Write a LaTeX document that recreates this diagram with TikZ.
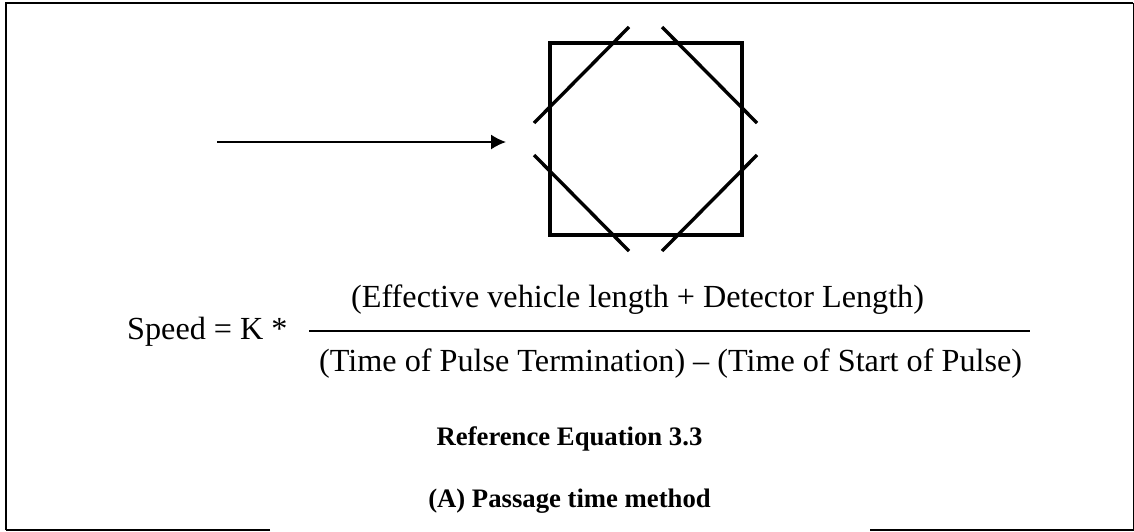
\documentclass[tikz,border=0pt]{standalone}
\usepackage{fontspec}
\setmainfont{Liberation Serif}
\usetikzlibrary{arrows.meta}
\begin{document}
\begin{tikzpicture}[
    x=1pt, y=-1pt,
    frameline/.style={line width=2pt},
    thinframe/.style={line width=1.2pt},
    slot/.style={line width=3.4pt},
    arrow/.style={-{Latex[length=15pt,width=15pt]}, line width=1.6pt},
    eqtext/.style={inner sep=0pt, font=\fontsize{32.2}{36}\selectfont},
    caption/.style={inner sep=0pt, font=\fontsize{26.7}{30}\selectfont\bfseries}
]
\useasboundingbox (0,0) rectangle (1134,531);
% Outer frame, open along the bottom
\coordinate (botleft) at (270,530);
\coordinate (botright) at (870,530);
\coordinate (cornersw) at (6,530);
\coordinate (cornernw) at (6,3);
\coordinate (cornerne) at (1133.4,3);
\coordinate (cornerse) at (1133.4,530);
\draw[frameline] (cornersw) -- (cornernw) -- (cornerne);
\draw[thinframe] (botleft) -- (cornersw);
\draw[thinframe] (cornerne) -- (cornerse) -- (botright);

% Detector loop
\node[draw, line width=3.5pt, minimum width=192pt, minimum height=192pt, inner sep=0pt] (loop) at (646,139) {};

% Saw cuts
\coordinate (nwa) at (534,123);
\coordinate (nwb) at (629,27);
\coordinate (nea) at (662,27);
\coordinate (neb) at (757,123);
\coordinate (swa) at (534,155);
\coordinate (swb) at (629,251);
\coordinate (sea) at (662,251);
\coordinate (seb) at (757,155);
\draw[slot] (nwa) -- (nwb);
\draw[slot] (nea) -- (neb);
\draw[slot] (swa) -- (swb);
\draw[slot] (sea) -- (seb);

% Direction of travel
\coordinate (start) at (217,142);
\coordinate (tip) at (506,142);
\draw[arrow] (start) -- (tip);

% Equation
\node[eqtext, anchor=base west] (speed) at (127,339) {Speed = K *};
\node[eqtext, anchor=base west] (num) at (351,307) {(Effective vehicle length + Detector Length)};
\node[eqtext, anchor=base west] (den) at (319,371) {(Time of Pulse Termination) -- (Time of Start of Pulse)};
\coordinate (barl) at (309,331);
\coordinate (barr) at (1030,331);
\draw[line width=1.8pt] (barl) -- (barr);

% Captions
\node[caption, anchor=base] (eqref) at (569.5,445) {Reference Equation 3.3};
\node[caption, anchor=base] (method) at (569.5,507) {(A) Passage time method};
\end{tikzpicture}
\end{document}
